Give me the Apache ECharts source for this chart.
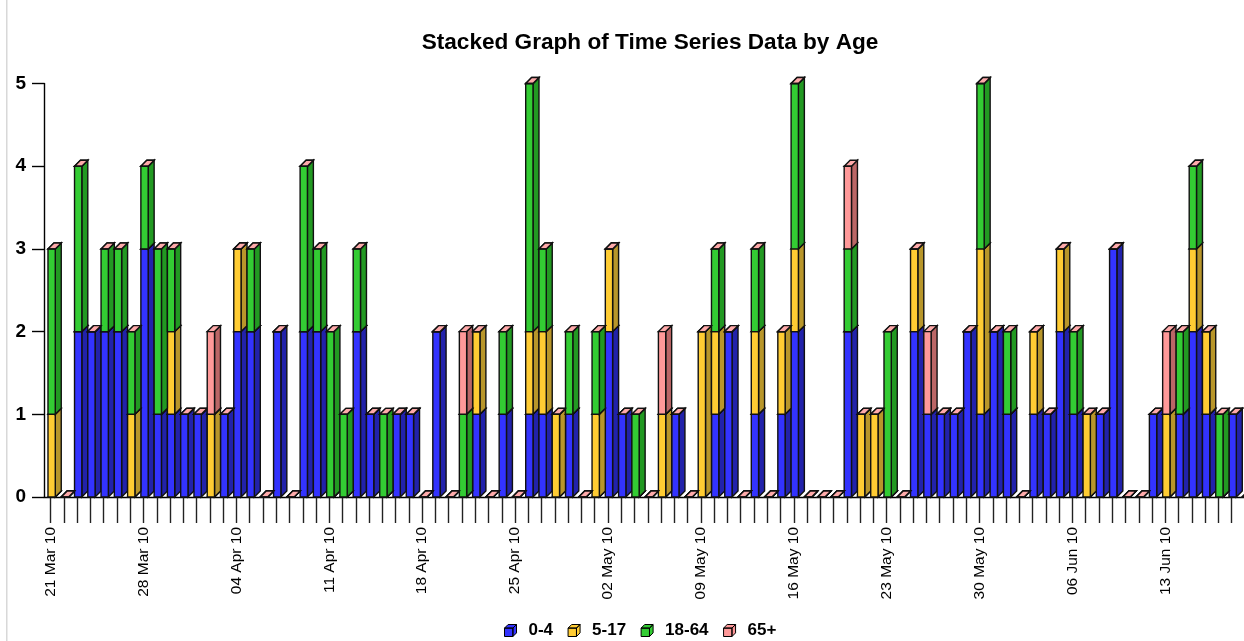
<!DOCTYPE html>
<html><head><meta charset="utf-8">
<style>html,body{margin:0;padding:0;background:#fff;overflow:hidden}#c{width:1244px;height:641px}</style>
<script src="https://cdn.jsdelivr.net/npm/echarts@6/dist/echarts.min.js"></script>
</head><body><div id="c"></div>
<script>
const tickLabels = ['21 Mar 10','28 Mar 10','04 Apr 10','11 Apr 10','18 Apr 10','25 Apr 10','02 May 10','09 May 10','16 May 10','23 May 10','30 May 10','06 Jun 10','13 Jun 10'];
const age0to4 = [0,0,2,2,2,2,0,3,1,1, 1,1,0,1,2,2,0,2,0,2, 2,0,0,2,1,0,1,1,0,2, 0,0,1,0,1,0,1,1,0,1, 0,0,2,1,0,0,0,1,0,0, 1,2,0,1,0,1,2,0,0,0, 2,0,0,0,0,2,1,1,1,2, 1,2,1,0,1,1,2,1,0,1, 3,0,0,1,0,1,2,1,0,1,0];
const age5to17 = [1,0,0,0,0,0,1,0,0,1, 0,0,1,0,1,0,0,0,0,0, 0,0,0,0,0,0,0,0,0,0, 0,0,1,0,0,0,1,1,1,0, 0,1,1,0,0,0,1,0,0,2, 1,0,0,1,0,1,1,0,0,0, 0,1,1,0,0,1,0,0,0,0, 2,0,0,0,1,0,1,0,1,0, 0,0,0,0,1,0,1,1,0,0,0];
const age18to64 = [2,0,2,0,1,1,1,1,2,1, 0,0,0,0,0,1,0,0,0,2, 1,2,1,1,0,1,0,0,0,0, 0,1,0,0,1,0,3,1,0,1, 0,1,0,0,1,0,0,0,0,0, 1,0,0,1,0,0,2,0,0,0, 1,0,0,2,0,0,0,0,0,0, 2,0,1,0,0,0,0,1,0,0, 0,0,0,0,0,1,1,0,1,0,0];
const age65plus = [0,0,0,0,0,0,0,0,0,0, 0,0,1,0,0,0,0,0,0,0, 0,0,0,0,0,0,0,0,0,0, 0,1,0,0,0,0,0,0,0,0, 0,0,0,0,0,0,1,0,0,0, 0,0,0,0,0,0,0,0,0,0, 1,0,0,0,0,0,1,0,0,0, 0,0,0,0,0,0,0,0,0,0, 0,0,0,0,1,0,0,0,0,0,0];

const seriesDefs = [
  {name:'0-4', values:age0to4, front:'#3333ff', side:'#2222aa', top:'#3333ff'},
  {name:'5-17', values:age5to17, front:'#ffcc33', side:'#b8962a', top:'#ffcc33'},
  {name:'18-64', values:age18to64, front:'#33cc33', side:'#229922', top:'#33cc33'},
  {name:'65+', values:age65plus, front:'#ff9999', side:'#bb6666', top:'#ffaaaa'}
];
const start = new Date(Date.UTC(2010,2,21));
const categories = age0to4.map((_,i)=>{
  if(i%7===0) return tickLabels[i/7];
  const d=new Date(start.getTime()+i*864e5);
  return d.toISOString().slice(0,10);
});
const FRONT=0.55, OFFSET=0.2, DEPTH=0.45;
function renderCube(def){
  return function(params,api){
    const i=api.value(0), lo=api.coord([i,api.value(1)]), hi=api.coord([i,api.value(2)]);
    const band=api.size([1,0])[0];
    const x=lo[0]-OFFSET*band, w=FRONT*band, d=DEPTH*band;
    const st=c=>({fill:c,stroke:'#111',lineWidth:1.4});
    return {type:'group',children:[
      {type:'polygon',shape:{points:[[x+w,lo[1]],[x+w+d,lo[1]-d],[x+w+d,hi[1]-d],[x+w,hi[1]]]},style:st(def.side)},
      {type:'polygon',shape:{points:[[x,hi[1]],[x+d,hi[1]-d],[x+w+d,hi[1]-d],[x+w,hi[1]]]},style:st(def.top)},
      {type:'rect',shape:{x:x,y:hi[1],width:w,height:lo[1]-hi[1]},style:st(def.front)}
    ]};
  };
}
const running=categories.map(()=>0);
const series=seriesDefs.map(def=>{
  const data=def.values.map((v,i)=>{const base=running[i];running[i]+=v;return [i,base,running[i]];});
  return {name:def.name,type:'custom',renderItem:renderCube(def),encode:{x:0,y:[1,2]},data,clip:false,
    itemStyle:{color:def.front,borderColor:'#000',borderWidth:1}};
});
const chart=echarts.init(document.getElementById('c'),null,{renderer:'canvas'});
chart.setOption({
  animation:false,
  backgroundColor:'#fff',
  title:{text:'Stacked Graph of Time Series Data by Age',left:645,top:26,textAlign:'center',
    textStyle:{fontFamily:'Liberation Sans',fontSize:22.6,fontWeight:'bold',color:'#000'}},
  legend:{left:499,top:617,itemWidth:12,itemHeight:12,itemGap:14.5,selectedMode:false,
    icon:'path://M0,3 L7,3 L7,10 L0,10 Z M0,3 L3,0 L10,0 L7,3 Z M7,3 L10,0 L10,7 L7,10 Z',
    itemStyle:{borderColor:'#000',borderWidth:1},
    textStyle:{fontFamily:'Liberation Sans',fontSize:17,fontWeight:'bold',color:'#000',padding:[0,0,0,7]}},
  grid:{left:44,top:83.5,width:13.27*categories.length,height:413.5,containLabel:false,outerBoundsMode:'none'},
  xAxis:{type:'category',data:categories,boundaryGap:true,
    axisLine:{lineStyle:{color:'#000',width:1.4}},
    axisTick:{show:true,alignWithLabel:true,interval:0,length:26,lineStyle:{color:'#222',width:1.4}},
    axisLabel:{interval:6,rotate:90,margin:30,fontFamily:'Liberation Sans',fontSize:15.5,color:'#000',hideOverlap:false}},
  yAxis:{type:'value',min:0,max:5,interval:1,
    splitLine:{show:false},
    axisLine:{show:true,lineStyle:{color:'#000',width:1.4}},
    axisTick:{show:true,length:12,lineStyle:{color:'#000',width:1.4}},
    axisLabel:{margin:18,padding:[3,0,0,0],fontFamily:'Liberation Sans',fontSize:19,fontWeight:'bold',color:'#000'}},
  graphic:[{type:'rect',silent:true,shape:{x:6,y:0,width:1.5,height:641},style:{fill:'#d8d8d8'}}],
  series
});
</script></body></html>
